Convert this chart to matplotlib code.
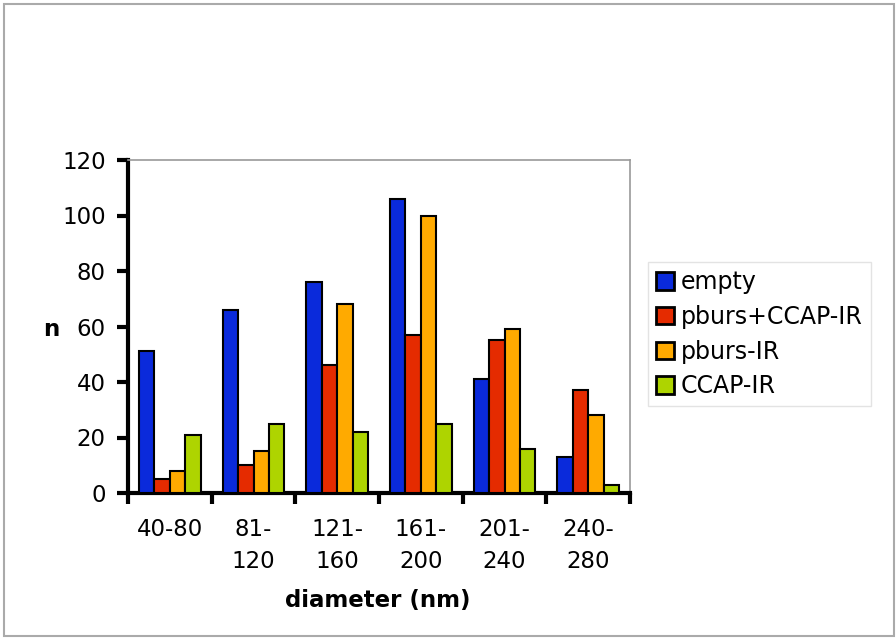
import matplotlib
matplotlib.use("Agg")
import matplotlib.pyplot as plt
import numpy as np
from matplotlib.patches import Rectangle

categories = ["40-80", "81-\n120", "121-\n160", "161-\n200", "201-\n240", "240-\n280"]
series_names = ["empty", "pburs+CCAP-IR", "pburs-IR", "CCAP-IR"]
empty = [51, 66, 76, 106, 41, 13]
pburs_ccap = [5, 10, 46, 57, 55, 37]
pburs_ir = [8, 15, 68, 100, 59, 28]
ccap_ir = [21, 25, 22, 25, 16, 3]
colors = ["#0A2ADB", "#E52B00", "#FFAA00", "#AED400"]
yticks = [0, 20, 40, 60, 80, 100, 120]

plt.rcParams['font.family'] = ['DejaVu Sans']
fig = plt.figure(figsize=(8.96, 6.38), dpi=100)
fig.patches.append(Rectangle((4/896, 2/638), 890/896, 632/638, transform=fig.transFigure,
                             fill=False, edgecolor="#AAAAAA", linewidth=1.5))
ax = fig.add_axes([128/896, (638-493)/638, 502/896, 333/638])

x = np.arange(len(categories))
w = 0.185
data = [empty, pburs_ccap, pburs_ir, ccap_ir]
for i, (vals, c, name) in enumerate(zip(data, colors, series_names)):
    ax.bar(x + (i - 1.5) * w, vals, width=w, color=c, edgecolor="black", linewidth=1.5, label=name, zorder=3)

ax.set_xlim(-0.5, len(categories) - 0.5)
ax.set_ylim(0, 120)
ax.set_yticks(yticks)
ax.set_yticklabels([str(v) for v in yticks], fontsize=16.5)
ax.set_xticks(np.arange(-0.5, len(categories), 1.0))
ax.set_xticklabels([])
ax.set_xticks(x, minor=True)
ax.set_xticklabels(categories, minor=True, fontsize=16.5, va="top", linespacing=1.5)
ax.tick_params(axis="x", which="major", direction="out", length=8, width=3)
ax.tick_params(axis="x", which="minor", length=0, pad=18)
ax.tick_params(axis="y", direction="out", length=8, width=3, pad=8)

for s in ["left", "bottom"]:
    ax.spines[s].set_linewidth(3)
    ax.spines[s].set_color("black")
for s in ["top", "right"]:
    ax.spines[s].set_linewidth(1.2)
    ax.spines[s].set_color("#999999")

fig.text(378/896, 1 - 600/638, "diameter (nm)", fontsize=16.5, fontweight="bold", ha="center", va="center")
fig.text(51/896, 1 - 329/638, "n", fontsize=16.5, fontweight="bold", ha="center", va="center")

leg = ax.legend(loc="upper left", bbox_to_anchor=(648/896, 1 - 262/638), bbox_transform=fig.transFigure,
                fontsize=17, frameon=True, fancybox=False, borderpad=0.35, labelspacing=0.45,
                handlelength=0.75, handleheight=0.75, handletextpad=0.3, borderaxespad=0)
leg.get_frame().set_edgecolor("#DDDDDD")
leg.get_frame().set_linewidth(1)
for h in leg.legend_handles:
    h.set_linewidth(2)

fig.savefig("out.png", dpi=100)
